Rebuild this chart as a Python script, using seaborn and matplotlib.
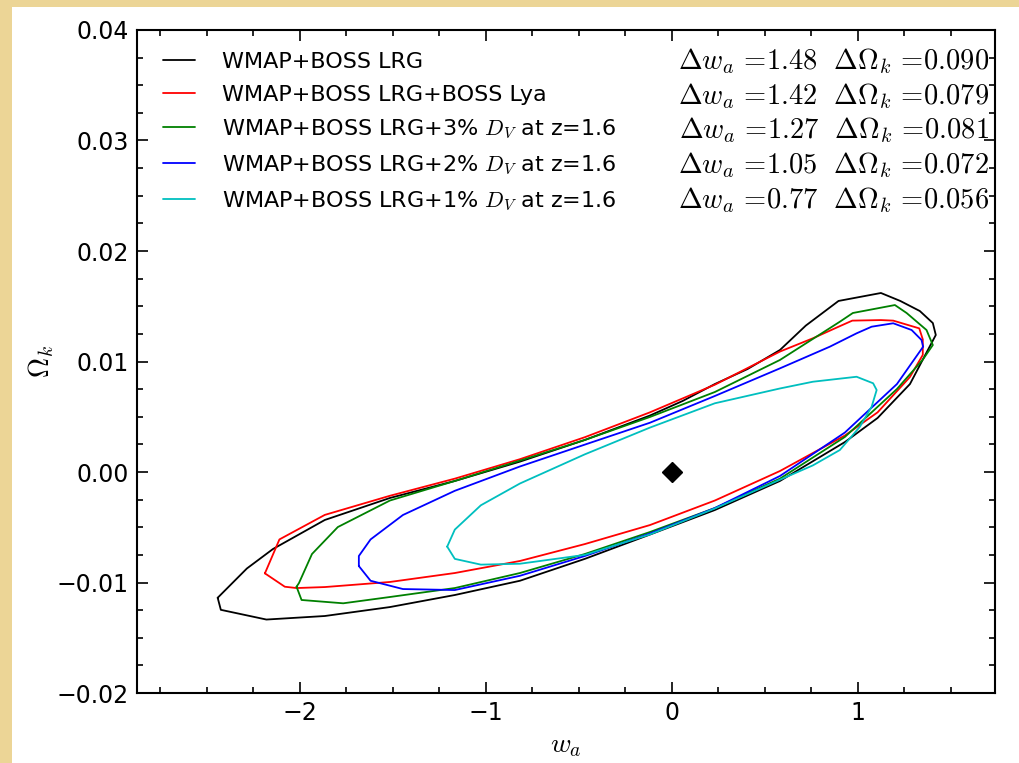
#!/usr/bin/env python3
"""
Contours w_a - Omega_k pour WMAP+BOSS LRG et les combinaisons avec D_V a z=1.6
"""

import pandas as pd
import matplotlib.pyplot as plt
import matplotlib.ticker as mticker
from matplotlib.patches import Rectangle
import seaborn as sns

# Donnees (contours fermes, w_a puis Omega_k)
labels = [
    'WMAP+BOSS LRG',
    'WMAP+BOSS LRG+BOSS Lya',
    r'WMAP+BOSS LRG+3% $D_V$ at z=1.6',
    r'WMAP+BOSS LRG+2% $D_V$ at z=1.6',
    r'WMAP+BOSS LRG+1% $D_V$ at z=1.6',
]
colors = ['#000000', '#ff0000', '#008000', '#0000ff', '#00bfbf']
delta_wa = ['1.48', '1.42', '1.27', '1.05', '0.77']
delta_ok = ['0.090', '0.079', '0.081', '0.072', '0.056']

black_wa = [-2.442, -2.425, -2.180, -1.866, -1.516, -1.167, -0.817, -0.468, -0.118, 0.231, 0.581,
            0.930, 1.106, 1.280, 1.349, 1.419, 1.403, 1.333, 1.228, 1.124, 0.896, 0.720, 0.581,
            0.407, 0.231, 0.058, -0.118, -0.468, -0.817, -1.167, -1.516, -1.866, -2.145, -2.285]
black_ok = [-0.01138, -0.01247, -0.01335, -0.01303, -0.01222, -0.01113, -0.00984, -0.00786,
            -0.00566, -0.00344, -0.00081, 0.00271, 0.00489, 0.00796, 0.01017, 0.01240, 0.01348,
            0.01457, 0.01548, 0.01620, 0.01548, 0.01325, 0.01104, 0.00932, 0.00796, 0.00643,
            0.00511, 0.00290, 0.00094, -0.00081, -0.00235, -0.00434, -0.00697, -0.00873]

red_wa = [-2.188, -2.081, -2.018, -1.866, -1.516, -1.167, -0.817, -0.468, -0.118, 0.231, 0.581,
          0.930, 1.106, 1.280, 1.349, 1.349, 1.330, 1.190, 1.124, 0.970, 0.903, 0.758, 0.581,
          0.231, -0.118, -0.468, -0.817, -1.167, -1.516, -1.866, -2.110]
red_ok = [-0.00917, -0.01038, -0.01050, -0.01041, -0.00995, -0.00914, -0.00805, -0.00652,
          -0.00480, -0.00258, 0.00009, 0.00330, 0.00540, 0.00860, 0.01060, 0.01200, 0.01300,
          0.01370, 0.01375, 0.01370, 0.01320, 0.01210, 0.01090, 0.00790, 0.00540, 0.00315,
          0.00116, -0.00060, -0.00215, -0.00388, -0.00610]

green_wa = [-2.018, -1.991, -1.767, -1.516, -1.167, -0.817, -0.468, -0.118, 0.231, 0.581, 0.930,
            1.210, 1.349, 1.403, 1.369, 1.262, 1.199, 0.973, 0.903, 0.581, 0.231, -0.118, -0.468,
            -0.817, -1.167, -1.516, -1.796, -1.935, -2.005]
green_ok = [-0.01038, -0.01158, -0.01188, -0.01131, -0.01050, -0.00914, -0.00742, -0.00543,
            -0.00326, -0.00060, 0.00317, 0.00751, 0.01017, 0.01149, 0.01285, 0.01439, 0.01511,
            0.01439, 0.01360, 0.01014, 0.00724, 0.00498, 0.00290, 0.00103, -0.00081, -0.00258,
            -0.00498, -0.00742, -0.01005]

blue_wa = [-1.683, -1.620, -1.446, -1.167, -0.817, -0.468, -0.118, 0.231, 0.581, 0.930, 1.210,
           1.351, 1.342, 1.289, 1.190, 1.074, 0.993, 0.849, 0.581, 0.231, -0.118, -0.468, -0.817,
           -1.167, -1.446, -1.620, -1.683]
blue_ok = [-0.00851, -0.00984, -0.01059, -0.01068, -0.00939, -0.00760, -0.00557, -0.00326,
           -0.00036, 0.00357, 0.00796, 0.01134, 0.01195, 0.01285, 0.01346, 0.01315, 0.01255,
           0.01134, 0.00938, 0.00688, 0.00446, 0.00248, 0.00050, -0.00170, -0.00389, -0.00610,
           -0.00760]

cyan_wa = [-1.208, -1.167, -1.027, -0.817, -0.468, -0.118, 0.231, 0.581, 0.758, 0.993, 1.082,
           1.101, 1.074, 1.011, 0.903, 0.758, 0.581, 0.231, -0.118, -0.468, -0.817, -1.027, -1.167]
cyan_ok = [-0.00675, -0.00521, -0.00301, -0.00104, 0.00160, 0.00402, 0.00622, 0.00756, 0.00817,
           0.00862, 0.00803, 0.00742, 0.00591, 0.00410, 0.00199, 0.00060, -0.00070, -0.00330,
           -0.00565, -0.00750, -0.00830, -0.00838, -0.00786]

fiducial_wa = [0.0]
fiducial_ok = [0.0]

contours = [(black_wa, black_ok), (red_wa, red_ok), (green_wa, green_ok),
            (blue_wa, blue_ok), (cyan_wa, cyan_ok)]


def build_frame():
    """Table longue, chaque contour ferme sur son premier point"""
    rows = []
    for lab, (wa, ok) in zip(labels, contours):
        wa = list(wa) + [wa[0]]
        ok = list(ok) + [ok[0]]
        for i, (x, y) in enumerate(zip(wa, ok)):
            rows.append({'model': lab, 'order': i, 'w_a': x, 'Omega_k': y})
    return pd.DataFrame(rows)


def main():
    sns.set_theme(style='ticks')
    plt.rcParams['font.family'] = ['DejaVu Sans']
    plt.rcParams['mathtext.fontset'] = 'cm'
    plt.rcParams['text.color'] = 'black'
    plt.rcParams['axes.labelcolor'] = 'black'
    plt.rcParams['xtick.labelcolor'] = 'black'
    plt.rcParams['ytick.labelcolor'] = 'black'

    df = build_frame()

    fig = plt.figure(figsize=(10.19, 7.63), dpi=100, facecolor='#ecd596')
    # panneau blanc comme sur la diapo (derriere les axes)
    fig.patches.append(Rectangle((12 / 1019, 0), 1, (763 - 7) / 763,
                                 transform=fig.transFigure, facecolor='white',
                                 edgecolor='none', zorder=-10))
    ax = fig.add_axes([0.1344, 0.0917, 0.8420, 0.8690])

    sns.lineplot(data=df, x='w_a', y='Omega_k', hue='model', hue_order=labels,
                 palette=colors, sort=False, estimator=None, units='model',
                 linewidth=1.3, ax=ax)
    ax.plot(fiducial_wa, fiducial_ok, marker='D', color='black', markersize=10,
            linestyle='none')

    ax.set_xlim(-2.876, 1.737)
    ax.set_ylim(-0.02, 0.04)
    ax.xaxis.set_major_locator(mticker.MultipleLocator(1))
    ax.xaxis.set_minor_locator(mticker.MultipleLocator(0.25))
    ax.yaxis.set_major_locator(mticker.MultipleLocator(0.01))
    ax.yaxis.set_minor_locator(mticker.MultipleLocator(0.0025))
    ax.yaxis.set_major_formatter(
        mticker.FuncFormatter(lambda v, p: ('%.2f' % v).replace('-', '\u2212')))
    ax.tick_params(which='both', direction='in', top=True, right=True, labelsize=17,
                   color='black', width=1.2)
    ax.tick_params(which='major', length=8, pad=6)
    ax.tick_params(which='minor', length=4)
    for s in ax.spines.values():
        s.set_linewidth(1.5)
        s.set_color('black')

    ax.set_xlabel(r'$w_a$', fontsize=20, labelpad=4)
    ax.set_ylabel(r'$\Omega_k$', fontsize=20, labelpad=0)

    handles, labs = ax.get_legend_handles_labels()
    ax.legend(handles, labs, loc='upper left', frameon=False, fontsize=16,
              handlelength=1.45, handletextpad=1.2, labelspacing=0.58,
              borderaxespad=0.3, bbox_to_anchor=(0.012, 0.99))

    # erreurs a droite, une ligne par modele
    for i, (dw, dk) in enumerate(zip(delta_wa, delta_ok)):
        ax.text(0.993, 0.953 - i * 0.0523,
                r'$\Delta w_a\,=\!%s\ \ \Delta\Omega_k\,=\!%s$' % (dw, dk),
                transform=ax.transAxes, ha='right', va='center', fontsize=20.5)

    plt.savefig('out.png', dpi=100, facecolor=fig.get_facecolor())


if __name__ == "__main__":
    main()
